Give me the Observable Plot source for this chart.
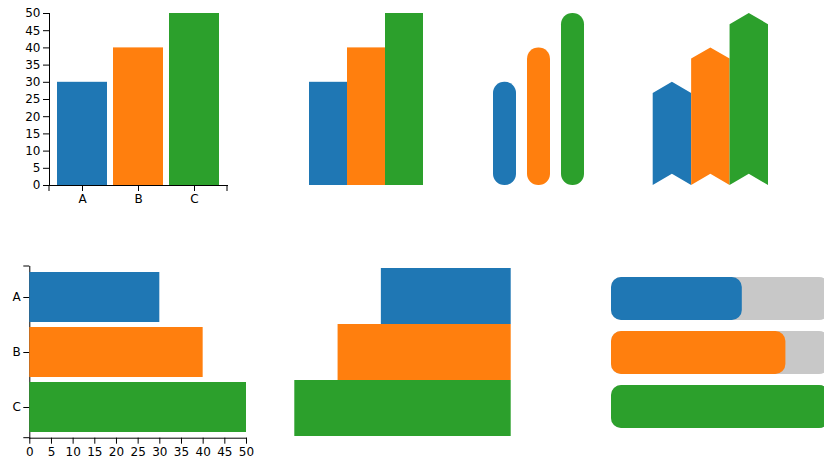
<!DOCTYPE html>
<html>
<head>
<meta charset="utf-8">
<script src="https://cdn.jsdelivr.net/npm/d3@7"></script>
<script src="https://cdn.jsdelivr.net/npm/@observablehq/plot@0.6"></script>
<style>
  html, body { margin: 0; padding: 0; background: #fff; overflow: hidden; }
  #wrap { position: relative; width: 824px; height: 463px; overflow: hidden; }
  #wrap > svg { position: absolute; display: block; }
  #wrap svg text { font-family: "DejaVu Sans", sans-serif; font-size: 12px; }
</style>
</head>
<body>
<div id="wrap"></div>
<script>
// ---- data ----
const categories = ["A", "B", "C"];
const values = [30, 40, 50];
const colors = ["#1f77b4", "#ff7f0e", "#2ca02c"];
const valueTicks = [0, 5, 10, 15, 20, 25, 30, 35, 40, 45, 50];
const trackColor = "#c8c8c8";

const data = categories.map((c, i) => ({cat: c, value: values[i], i}));
const maxValue = d3.max(values);
const track = categories.map(c => ({cat: c, value: maxValue}));

const wrap = document.getElementById("wrap");
const baseStyle = "font-family: 'DejaVu Sans', sans-serif; font-size: 12px; background: transparent; color: black; overflow: visible;";
const color = {domain: categories, range: colors};

function place(svg, left, top) {
  svg.style.left = left + "px";
  svg.style.top = top + "px";
  wrap.appendChild(svg);
  return svg;
}

// Panel 1: vertical bars with axes
const p1 = Plot.plot({
  width: 240, height: 215, marginTop: 13, marginBottom: 30, marginLeft: 49, marginRight: 13,
  style: baseStyle,
  x: {domain: categories, paddingInner: 0.1, paddingOuter: 0.13, label: null, tickSize: 6, line: true},
  y: {domain: [0, maxValue], ticks: valueTicks, label: null, tickSize: 6, line: true},
  color,
  marks: [Plot.barY(data, {x: "cat", y: "value", fill: "cat"})]
});
place(p1, 0, 0);
{
  const [x0, x1] = p1.scale("x").range;
  const yb = p1.scale("y").range[0];
  d3.select(p1).selectAll("line.outer").data([x0, x1]).join("line")
    .attr("x1", d => d).attr("x2", d => d).attr("y1", yb).attr("y2", yb + 6)
    .attr("stroke", "currentColor");
}

// Panel 2: adjacent vertical bars
place(Plot.plot({
  width: 160, height: 215, marginTop: 13, marginBottom: 30, marginLeft: 28, marginRight: 17,
  style: baseStyle, axis: null,
  x: {domain: categories, padding: 0},
  y: {domain: [0, maxValue]},
  color,
  marks: [Plot.barY(data, {x: "cat", y: "value", fill: "cat"})]
}), 280, 0);

// Panel 3: pill bars
place(Plot.plot({
  width: 130, height: 215, marginTop: 13, marginBottom: 30, marginLeft: 11.3, marginRight: 5.3,
  style: baseStyle, axis: null,
  x: {domain: categories, padding: 0.335},
  y: {domain: [0, maxValue]},
  color,
  marks: [Plot.barY(data, {x: "cat", y: "value", fill: "cat", rx: 11.3})]
}), 470, 0);

// Panel 4: chevron bars (area per category built from the values)
const notch = 3.25;
const chevron = data.flatMap(d => [
  {cat: d.cat, x: d.i - 0.5, y1: 0, y2: d.value - notch},
  {cat: d.cat, x: d.i, y1: notch, y2: d.value},
  {cat: d.cat, x: d.i + 0.5, y1: 0, y2: d.value - notch}
]);
place(Plot.plot({
  width: 160, height: 215, marginTop: 13, marginBottom: 30, marginLeft: 22.7, marginRight: 22,
  style: baseStyle, axis: null,
  x: {domain: [-0.5, categories.length - 0.5]},
  y: {domain: [0, maxValue]},
  color,
  marks: [Plot.areaY(chevron, {x: "x", y1: "y1", y2: "y2", z: "cat", fill: "cat"})]
}), 630, 0);

// Panel 5: horizontal bars with axes
const p5 = Plot.plot({
  width: 260, height: 208, marginTop: 11, marginBottom: 25.3, marginLeft: 29.3, marginRight: 14,
  style: baseStyle,
  x: {domain: [0, maxValue], ticks: valueTicks, label: null, tickSize: 6, line: true},
  y: {domain: categories, padding: 0.1, label: null, tickSize: 6, line: true},
  color,
  marks: [Plot.barX(data, {y: "cat", x: "value", fill: "cat"})]
});
place(p5, 0, 255);
{
  const [y0, y1] = p5.scale("y").range;
  const xl = p5.scale("x").range[0];
  d3.select(p5).selectAll("line.outer").data([y0, y1]).join("line")
    .attr("y1", d => d).attr("y2", d => d).attr("x1", xl - 6).attr("x2", xl)
    .attr("stroke", "currentColor");
}

// Panel 6: right-aligned horizontal bars
place(Plot.plot({
  width: 250, height: 208, marginTop: 12.7, marginBottom: 26.3, marginLeft: 14.3, marginRight: 19.3,
  style: baseStyle, axis: null,
  x: {domain: [0, maxValue], reverse: true},
  y: {domain: categories, padding: 0},
  color,
  marks: [Plot.barX(data, {y: "cat", x: "value", fill: "cat"})]
}), 280, 255);

// Panel 7: progress bars
place(Plot.plot({
  width: 229, height: 208, marginTop: 10.9, marginBottom: 23.7, marginLeft: 11, marginRight: 0,
  style: baseStyle, axis: null,
  x: {domain: [0, maxValue]},
  y: {domain: categories, padding: 0.2},
  color,
  marks: [
    Plot.barX(track, {y: "cat", x: "value", fill: trackColor, rx: 10}),
    Plot.barX(data, {y: "cat", x: "value", fill: "cat", rx: 10})
  ]
}), 600, 255);
</script>
</body>
</html>
